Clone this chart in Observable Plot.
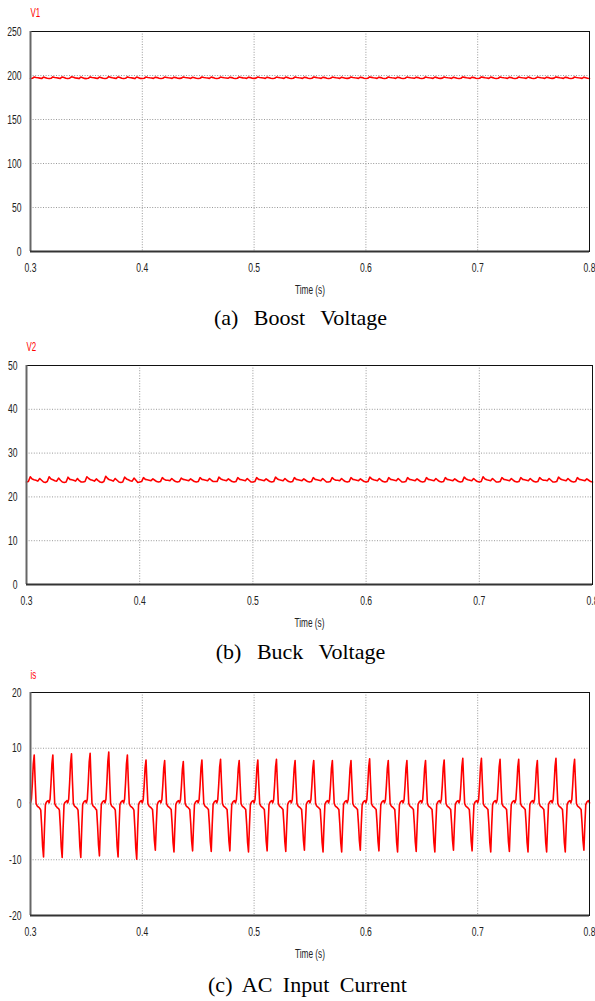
<!DOCTYPE html>
<html>
<head>
<meta charset="utf-8">
<script src="https://cdn.jsdelivr.net/npm/d3@7"></script>
<script src="https://cdn.jsdelivr.net/npm/@observablehq/plot@0.6"></script>
<style>
html, body { margin: 0; padding: 0; background: #fff; }
body { width: 595px; height: 1001px; overflow: hidden; }
svg { display: block; }
.cap { font-family: "Liberation Serif", "Times New Roman", serif; font-size: 22px; text-align: center; color: #000; white-space: nowrap; }
</style>
</head>
<body>
<div id="chart"></div>
<script>
// ---------- data ----------
const timeStart = 0.3;
const xTicks = [0.3, 0.4, 0.5, 0.6, 0.7, 0.8];

// (a) Boost voltage V1, sampled every 1/600 s from 0.3 s
const v1Step = 1 / 600;
const v1Values = [
  196.6,196.8,198.3,197.8,197.4,197.0,196.6,198.2,197.5,196.8,
  196.5,196.8,198.4,197.8,197.4,197.0,196.6,198.3,197.6,196.8,
  196.5,196.9,198.5,197.9,197.3,197.0,196.5,198.2,197.5,196.7,
  196.5,196.8,198.4,197.8,197.4,197.0,196.6,198.2,197.5,196.8,
  196.6,196.9,198.6,197.9,197.4,197.0,196.6,198.3,197.6,196.8,
  196.5,196.8,198.4,197.8,197.4,197.0,196.5,198.3,197.5,196.7,
  196.6,196.9,198.3,197.8,197.4,197.1,196.7,198.1,197.6,196.9,
  196.6,196.9,198.2,197.8,197.4,197.1,196.7,198.1,197.6,196.9,
  196.7,197.0,198.3,197.7,197.4,197.1,196.7,198.0,197.5,196.9,
  196.6,196.9,198.3,197.8,197.4,197.1,196.7,198.2,197.6,196.9,
  196.6,196.9,198.2,197.8,197.4,197.1,196.8,198.1,197.6,196.9,
  196.6,196.9,198.3,197.8,197.3,197.1,196.7,198.1,197.6,196.8,
  196.7,197.0,198.3,197.7,197.4,197.1,196.7,198.1,197.5,196.9,
  196.6,196.9,198.2,197.8,197.4,197.1,196.7,198.2,197.6,196.9,
  196.6,196.9,198.3,197.8,197.4,197.1,196.7,198.1,197.6,196.9,
  196.6,196.9,198.3,197.9,197.4,197.1,196.7,198.1,197.6,196.9,
  196.6,196.9,198.2,197.8,197.4,197.1,196.7,198.1,197.5,196.9,
  196.7,197.0,198.3,197.8,197.4,197.1,196.7,198.1,197.6,196.9,
  196.6,196.9,198.4,197.9,197.4,197.1,196.7,198.1,197.6,196.9,
  196.6,196.9,198.3,197.8,197.4,197.1,196.7,198.1,197.6,196.9,
  196.6,196.9,198.2,197.8,197.4,197.1,196.8,198.1,197.6,196.9,
  196.6,196.9,198.3,197.8,197.4,197.1,196.7,198.2,197.6,196.9,
  196.7,197.0,198.3,197.8,197.4,197.1,196.7,198.1,197.5,196.9,
  196.6,196.9,198.4,197.9,197.4,197.1,196.7,198.1,197.6,196.9,
  196.6,196.9,198.4,197.9,197.4,197.1,196.7,198.2,197.6,196.9,
  196.6,196.9,198.3,197.8,197.4,197.1,196.7,198.1,197.6,196.9,
  196.6,196.9,198.3,197.8,197.4,197.1,196.7,198.2,197.6,196.9,
  196.6,196.9,198.2,197.8,197.4,197.1,196.7,198.1,197.6,196.9,
  196.7,197.0,198.4,197.9,197.4,197.1,196.7,198.1,197.6,196.9,
  196.6,196.9,198.3,197.8,197.4,197.1,196.7,198.1,197.5,196.9,
  196.6
];
const v1Domain = [0, 250];
const v1Ticks = [0, 50, 100, 150, 200, 250];

// (b) Buck voltage V2, sampled every 1/600 s from 0.3 s
const v2Step = 1 / 600;
const v2Values = [
  23.4,23.5,24.6,24.1,23.9,23.8,23.6,24.2,23.8,23.4,
  23.3,23.5,24.6,24.1,23.9,23.7,23.6,24.3,23.8,23.4,
  23.3,23.4,24.5,24.0,23.9,23.8,23.6,24.2,23.7,23.4,
  23.4,23.5,24.6,24.2,23.9,23.8,23.6,24.1,23.7,23.4,
  23.3,23.5,24.7,24.2,23.9,23.8,23.6,24.2,23.8,23.4,
  23.3,23.4,24.5,24.1,23.9,23.7,23.6,24.3,23.8,23.3,
  23.4,23.5,24.4,24.0,23.9,23.8,23.7,24.1,23.8,23.5,
  23.4,23.5,24.4,24.0,23.8,23.8,23.7,24.2,23.8,23.5,
  23.4,23.5,24.3,24.0,23.9,23.8,23.7,24.1,23.8,23.5,
  23.4,23.5,24.4,24.0,23.9,23.8,23.7,24.2,23.8,23.5,
  23.5,23.5,24.5,24.1,23.9,23.8,23.7,24.1,23.8,23.5,
  23.4,23.5,24.4,24.0,23.9,23.8,23.7,24.2,23.8,23.4,
  23.4,23.5,24.4,24.0,23.9,23.8,23.7,24.1,23.8,23.5,
  23.4,23.5,24.5,24.1,23.9,23.8,23.7,24.2,23.8,23.5,
  23.4,23.5,24.4,24.0,23.9,23.8,23.7,24.1,23.8,23.5,
  23.4,23.5,24.4,24.0,23.9,23.8,23.7,24.2,23.8,23.4,
  23.4,23.5,24.4,24.0,23.8,23.8,23.7,24.2,23.8,23.5,
  23.4,23.5,24.4,24.0,23.9,23.8,23.7,24.1,23.8,23.5,
  23.4,23.5,24.5,24.1,23.9,23.8,23.7,24.2,23.8,23.5,
  23.4,23.5,24.4,24.0,23.9,23.8,23.7,24.2,23.8,23.4,
  23.4,23.5,24.4,24.0,23.9,23.8,23.7,24.1,23.8,23.5,
  23.4,23.5,24.4,24.0,23.9,23.8,23.7,24.2,23.8,23.5,
  23.4,23.5,24.4,24.0,23.9,23.8,23.7,24.1,23.8,23.5,
  23.4,23.5,24.5,24.1,23.9,23.8,23.7,24.2,23.8,23.5,
  23.4,23.5,24.6,24.1,23.9,23.8,23.7,24.2,23.8,23.4,
  23.4,23.5,24.4,24.0,23.9,23.8,23.7,24.2,23.8,23.5,
  23.4,23.5,24.4,24.0,23.9,23.8,23.7,24.2,23.8,23.5,
  23.4,23.5,24.4,24.0,23.8,23.8,23.7,24.2,23.8,23.4,
  23.4,23.5,24.5,24.1,23.9,23.8,23.7,24.2,23.8,23.5,
  23.4,23.5,24.4,24.0,23.9,23.8,23.7,24.1,23.8,23.5,
  23.4
];
const v2Domain = [0, 50];
const v2Ticks = [0, 10, 20, 30, 40, 50];

// (c) AC input current is, sampled every 1/1200 s from 0.3 s
const isStep = 1 / 1200;
const isValues = [
  0.2,0.9,3.7,7.2,8.8,4.1,0.1,-0.3,-0.5,-0.6,-0.8,-1.1,-4.0,-7.6,-9.5,-4.4,-0.1,0.3,0.5,0.6,
  0.2,0.9,3.7,7.2,8.8,4.1,0.1,-0.3,-0.5,-0.7,-0.8,-1.1,-4.0,-7.7,-9.6,-4.4,-0.1,0.3,0.4,0.6,
  0.2,0.9,3.8,7.4,9.0,4.2,0.1,-0.3,-0.5,-0.6,-0.8,-1.1,-4.0,-7.7,-9.6,-4.4,-0.1,0.3,0.5,0.6,
  0.2,0.9,3.8,7.5,9.1,4.3,0.1,-0.3,-0.5,-0.6,-0.9,-1.1,-3.9,-7.4,-9.3,-4.3,-0.1,0.3,0.5,0.6,
  0.2,0.9,3.9,7.6,9.3,4.4,0.1,-0.3,-0.5,-0.6,-0.8,-1.1,-4.0,-7.6,-9.5,-4.4,-0.1,0.3,0.5,0.6,
  0.2,0.9,3.7,7.2,8.8,4.1,0.1,-0.3,-0.5,-0.6,-0.8,-1.1,-4.2,-7.9,-9.9,-4.6,-0.1,0.3,0.5,0.6,
  0.2,0.8,3.3,6.5,7.9,3.7,0.1,-0.3,-0.5,-0.6,-0.8,-1.0,-3.5,-6.6,-8.3,-3.8,-0.1,0.3,0.5,0.6,
  0.2,0.8,3.3,6.4,7.8,3.7,0.1,-0.3,-0.5,-0.6,-0.8,-1.0,-3.6,-6.9,-8.6,-4.0,-0.1,0.3,0.5,0.6,
  0.2,0.8,3.2,6.2,7.6,3.6,0.1,-0.3,-0.5,-0.6,-0.8,-1.0,-3.5,-6.7,-8.4,-3.9,-0.1,0.3,0.5,0.6,
  0.2,0.8,3.3,6.5,7.9,3.7,0.1,-0.3,-0.5,-0.6,-0.8,-1.0,-3.6,-6.8,-8.5,-3.9,-0.1,0.3,0.5,0.6,
  0.2,0.8,3.4,6.6,8.0,3.8,0.1,-0.3,-0.5,-0.6,-0.8,-1.0,-3.5,-6.7,-8.4,-3.9,-0.1,0.3,0.5,0.6,
  0.2,0.8,3.3,6.4,7.8,3.7,0.1,-0.3,-0.5,-0.6,-0.8,-1.0,-3.6,-6.9,-8.6,-4.0,-0.1,0.3,0.5,0.6,
  0.2,0.8,3.3,6.5,7.9,3.7,0.1,-0.3,-0.5,-0.6,-0.8,-1.0,-3.5,-6.7,-8.4,-3.9,-0.1,0.3,0.5,0.6,
  0.2,0.8,3.4,6.6,8.0,3.8,0.1,-0.3,-0.5,-0.6,-0.8,-1.0,-3.6,-6.8,-8.5,-3.9,-0.1,0.3,0.5,0.6,
  0.2,0.8,3.3,6.4,7.8,3.7,0.1,-0.3,-0.5,-0.6,-0.8,-1.0,-3.5,-6.6,-8.3,-3.8,-0.1,0.3,0.5,0.6,
  0.2,0.8,3.3,6.4,7.8,3.7,0.1,-0.3,-0.5,-0.6,-0.8,-1.0,-3.6,-6.9,-8.6,-4.0,-0.1,0.3,0.5,0.6,
  0.2,0.8,3.3,6.4,7.8,3.7,0.1,-0.3,-0.5,-0.6,-0.8,-1.0,-3.6,-6.9,-8.6,-4.0,-0.1,0.3,0.5,0.6,
  0.2,0.8,3.3,6.4,7.8,3.7,0.1,-0.3,-0.5,-0.6,-0.8,-1.0,-3.5,-6.6,-8.3,-3.8,-0.1,0.3,0.5,0.6,
  0.2,0.8,3.4,6.6,8.1,3.8,0.1,-0.3,-0.5,-0.6,-0.8,-1.0,-3.5,-6.7,-8.4,-3.9,-0.1,0.3,0.5,0.6,
  0.2,0.8,3.3,6.4,7.8,3.7,0.1,-0.3,-0.5,-0.6,-0.8,-1.0,-3.6,-6.9,-8.6,-4.0,-0.1,0.3,0.5,0.6,
  0.2,0.8,3.3,6.4,7.8,3.7,0.1,-0.3,-0.5,-0.6,-0.8,-1.0,-3.6,-6.8,-8.5,-3.9,-0.1,0.3,0.5,0.6,
  0.2,0.8,3.3,6.4,7.8,3.7,0.1,-0.3,-0.5,-0.6,-0.8,-1.0,-3.6,-6.9,-8.6,-4.0,-0.1,0.3,0.5,0.6,
  0.2,0.8,3.3,6.5,7.9,3.7,0.1,-0.3,-0.5,-0.6,-0.8,-1.0,-3.5,-6.6,-8.3,-3.8,-0.1,0.3,0.5,0.6,
  0.2,0.8,3.4,6.7,8.2,3.9,0.1,-0.3,-0.5,-0.6,-0.8,-1.0,-3.5,-6.7,-8.4,-3.9,-0.1,0.3,0.5,0.6,
  0.2,0.8,3.4,6.7,8.2,3.9,0.1,-0.3,-0.5,-0.6,-0.8,-1.0,-3.6,-6.9,-8.6,-4.0,-0.1,0.3,0.5,0.6,
  0.2,0.8,3.4,6.6,8.0,3.8,0.1,-0.3,-0.5,-0.6,-0.8,-1.0,-3.6,-6.8,-8.5,-3.9,-0.1,0.3,0.5,0.6,
  0.2,0.8,3.4,6.6,8.0,3.8,0.1,-0.3,-0.5,-0.6,-0.8,-1.0,-3.6,-6.9,-8.6,-4.0,-0.1,0.3,0.5,0.6,
  0.2,0.8,3.3,6.4,7.8,3.7,0.1,-0.3,-0.5,-0.6,-0.8,-1.0,-3.6,-6.9,-8.6,-4.0,-0.1,0.3,0.5,0.6,
  0.2,0.8,3.4,6.7,8.2,3.9,0.1,-0.3,-0.5,-0.6,-0.8,-1.0,-3.6,-6.9,-8.6,-4.0,-0.1,0.3,0.5,0.6,
  0.2,0.8,3.4,6.6,8.0,3.8,0.1,-0.3,-0.5,-0.6,-0.8,-1.0,-3.5,-6.6,-8.3,-3.8,-0.1,0.3,0.5,0.6,
  0.2
];
const isDomain = [-20, 20];
const isTicks = [-20, -10, 0, 10, 20];

const panelLabels = ["V1", "V2", "is"];
const captions = ["(a) Boost Voltage", "(b) Buck Voltage", "(c) AC Input Current"];
const xLabel = "Time (s)";

// ---------- drawing ----------
const tickFont = '"Liberation Sans", Arial, sans-serif';

// squeeze text horizontally (about its anchor) to mimic the condensed simulator font
function condense(svg, s) {
  svg.querySelectorAll("text").forEach(t => {
    const tr = t.getAttribute("transform") || "";
    const xs = t.getAttribute("x");
    let x = 0;
    if (xs != null && /^-?[\d.]+$/.test(xs.trim())) { x = +xs; t.removeAttribute("x"); }
    t.setAttribute("transform", `${tr} translate(${x},0) scale(${s},1)`);
  });
}

function panel(o) {
  const data = o.values.map((v, i) => ({t: timeStart + i * o.step, v}));
  const grid = {stroke: "#999", strokeOpacity: 1, strokeDasharray: "1,1.6", strokeWidth: 1};
  const svg = Plot.plot({
    width: 595,
    height: o.height,
    marginTop: o.marginTop,
    marginBottom: o.marginBottom,
    marginLeft: o.marginLeft,
    marginRight: o.marginRight,
    style: {fontFamily: tickFont, fontSize: "13px", color: "#222", background: "#fff", overflow: "visible"},
    x: {domain: [xTicks[0], xTicks[xTicks.length - 1]]},
    y: {domain: o.domain},
    marks: [
      Plot.gridX(xTicks.slice(1, -1), grid),
      Plot.gridY(o.ticks.slice(1, -1), grid),
      Plot.axisX(xTicks, {tickSize: 0, tickPadding: 11, tickFormat: d => String(d), label: null}),
      Plot.axisY(o.ticks, {tickSize: 0, tickPadding: 9, tickFormat: d => String(d), label: null}),
      Plot.line(data, {x: "t", y: "v", stroke: "#ff0000", strokeWidth: 1.6}),
      Plot.frame({stroke: "#111", strokeWidth: 1}),
      Plot.ruleX([xTicks[0]], {stroke: "#666", strokeWidth: 2}),
      Plot.ruleY([o.domain[0]], {stroke: "#333", strokeWidth: 2}),
      Plot.text([o.label], {text: d => d, frameAnchor: "top-left", textAnchor: "start", lineAnchor: "middle", dy: o.labelDy, fill: "#ff0000", fontSize: 12}),
      Plot.text([xLabel], {text: d => d, frameAnchor: "bottom", textAnchor: "middle", lineAnchor: "middle", dy: 38, fill: "#222", fontSize: 12.5})
    ]
  });
  condense(svg, 0.66);
  return svg;
}

function caption(text, h, wordSpacing, shift) {
  const d = document.createElement("div");
  d.className = "cap";
  d.style.height = h + "px";
  d.style.lineHeight = h + "px";
  d.style.wordSpacing = wordSpacing + "px";
  d.style.paddingLeft = (2 * shift) + "px";
  d.style.boxSizing = "border-box";
  d.textContent = text;
  return d;
}

const root = document.getElementById("chart");
root.append(
  panel({values: v1Values, step: v1Step, domain: v1Domain, ticks: v1Ticks, label: panelLabels[0], height: 302, marginTop: 31, marginBottom: 51, marginLeft: 30, marginRight: 6, labelDy: -18.5}),
  caption(captions[0], 32, 10, 3),
  panel({values: v2Values, step: v2Step, domain: v2Domain, ticks: v2Ticks, label: panelLabels[1], height: 302, marginTop: 31, marginBottom: 52, marginLeft: 26, marginRight: 3, labelDy: -18}),
  caption(captions[1], 32, 10, 3),
  panel({values: isValues, step: isStep, domain: isDomain, ticks: isTicks, label: panelLabels[2], height: 300, marginTop: 24, marginBottom: 53, marginLeft: 30, marginRight: 6, labelDy: -17}),
  caption(captions[2], 33, 5, 10)
);
</script>
</body>
</html>
